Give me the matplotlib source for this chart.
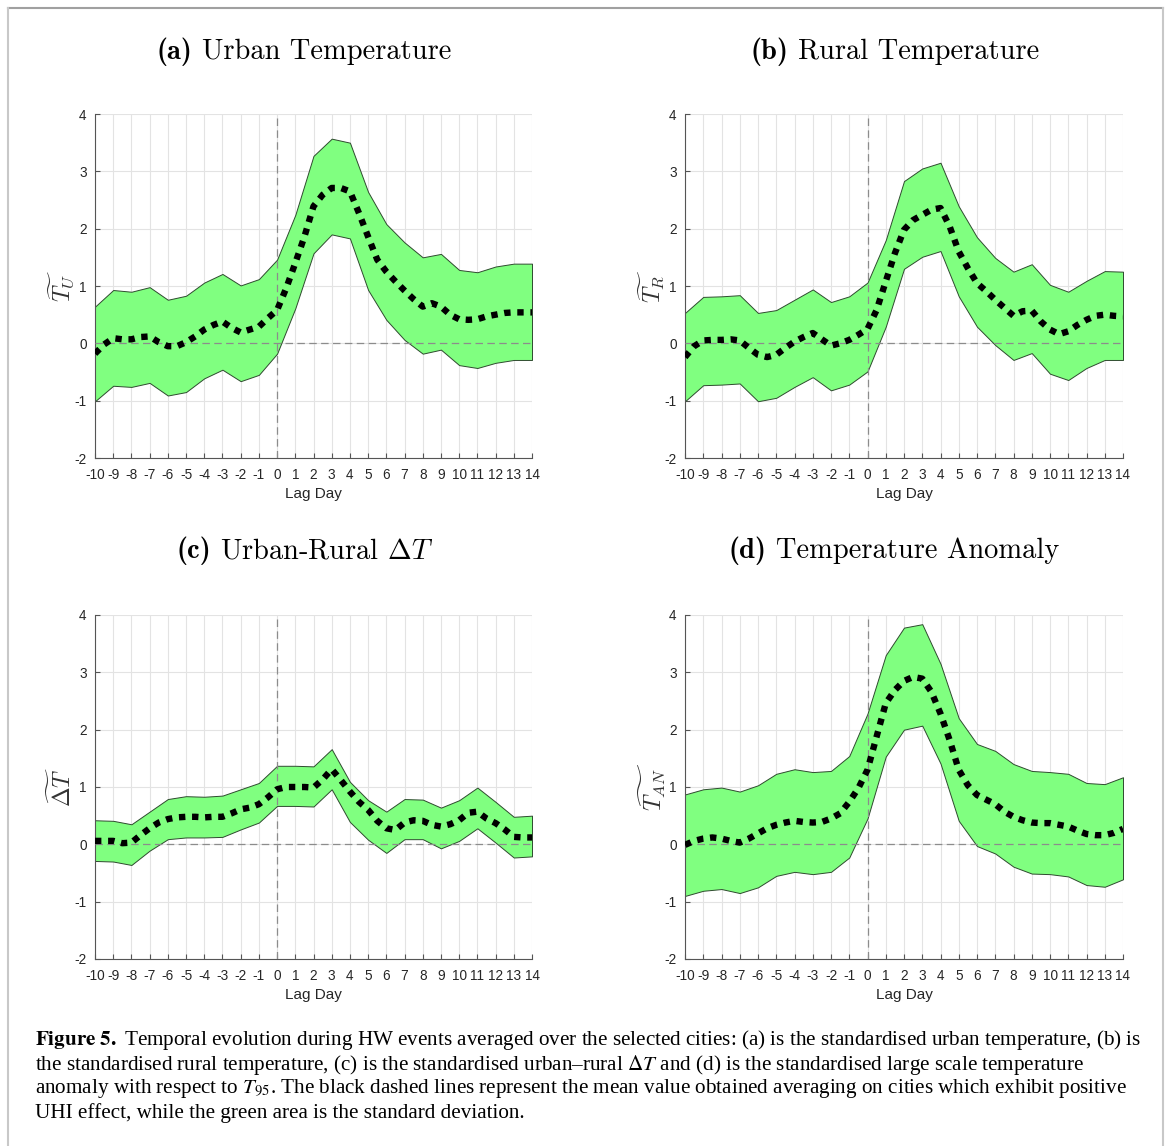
import numpy as np
import matplotlib.pyplot as plt
from matplotlib.lines import Line2D

plt.rcParams["axes.unicode_minus"] = False

# lag days
lag_days = list(range(-10, 15))
lag_half = np.arange(-10, 14.5, 0.5)

# (a) urban temperature
urban_upper = [0.64, 0.93, 0.90, 0.98, 0.76, 0.83, 1.06, 1.21, 1.01, 1.12, 1.46, 2.24, 3.27,
               3.57, 3.50, 2.64, 2.08, 1.76, 1.50, 1.56, 1.28, 1.24, 1.34, 1.39, 1.39]
urban_lower = [-1.01, -0.74, -0.76, -0.69, -0.91, -0.85, -0.61, -0.46, -0.66, -0.55, -0.18, 0.61, 1.57,
               1.90, 1.83, 0.93, 0.41, 0.06, -0.18, -0.11, -0.38, -0.43, -0.34, -0.29, -0.29]
urban_mean = [-0.18, -0.02, 0.09, 0.07, 0.07, 0.11, 0.12, 0.02, -0.05, -0.05, 0.02, 0.12, 0.24,
              0.32, 0.38, 0.27, 0.19, 0.24, 0.29, 0.44, 0.58, 0.96, 1.40, 1.86, 2.39, 2.59,
              2.71, 2.71, 2.65, 2.27, 1.86, 1.46, 1.25, 1.08, 0.92, 0.77, 0.64, 0.70, 0.64,
              0.50, 0.42, 0.41, 0.42, 0.47, 0.50, 0.53, 0.54, 0.54, 0.54]

# (b) rural temperature
rural_upper = [0.53, 0.81, 0.82, 0.84, 0.53, 0.58, 0.76, 0.94, 0.72, 0.82, 1.06, 1.80, 2.83,
               3.05, 3.15, 2.39, 1.85, 1.49, 1.25, 1.38, 1.02, 0.90, 1.09, 1.26, 1.25]
rural_lower = [-1.01, -0.73, -0.72, -0.70, -1.01, -0.95, -0.76, -0.59, -0.82, -0.72, -0.49, 0.29, 1.30,
               1.51, 1.61, 0.82, 0.29, -0.03, -0.29, -0.17, -0.53, -0.64, -0.43, -0.29, -0.29]
rural_mean = [-0.24, -0.05, 0.05, 0.06, 0.06, 0.07, 0.05, -0.08, -0.20, -0.24, -0.20, -0.08, 0.03,
              0.11, 0.18, 0.07, -0.04, 0.00, 0.06, 0.15, 0.25, 0.58, 1.08, 1.57, 1.98, 2.15,
              2.24, 2.33, 2.36, 2.04, 1.60, 1.31, 1.05, 0.91, 0.76, 0.62, 0.48, 0.56, 0.57,
              0.38, 0.24, 0.16, 0.21, 0.32, 0.41, 0.48, 0.50, 0.48, 0.47]

# (c) urban-rural delta T
delta_upper = [0.42, 0.41, 0.35, 0.57, 0.79, 0.84, 0.83, 0.85, 0.96, 1.07, 1.37, 1.37, 1.36,
               1.66, 1.09, 0.77, 0.57, 0.79, 0.78, 0.64, 0.77, 0.99, 0.74, 0.48, 0.50]
delta_lower = [-0.29, -0.30, -0.36, -0.11, 0.09, 0.12, 0.12, 0.13, 0.26, 0.38, 0.67, 0.67, 0.66,
               0.96, 0.39, 0.08, -0.15, 0.09, 0.09, -0.07, 0.06, 0.28, 0.03, -0.23, -0.21]
delta_mean = [0.06, 0.06, 0.06, 0.02, 0.03, 0.16, 0.28, 0.38, 0.44, 0.47, 0.48, 0.48, 0.47,
              0.48, 0.48, 0.54, 0.61, 0.64, 0.70, 0.82, 0.96, 1.00, 1.00, 1.00, 0.99, 1.13,
              1.31, 1.12, 0.92, 0.74, 0.60, 0.41, 0.28, 0.25, 0.38, 0.42, 0.41, 0.34, 0.31,
              0.35, 0.42, 0.55, 0.57, 0.45, 0.37, 0.26, 0.13, 0.12, 0.12]

# (d) temperature anomaly
anom_upper = [0.87, 0.96, 0.99, 0.92, 1.03, 1.23, 1.31, 1.26, 1.28, 1.54, 2.28, 3.30, 3.78,
              3.84, 3.15, 2.20, 1.75, 1.63, 1.40, 1.28, 1.26, 1.23, 1.07, 1.05, 1.17]
anom_lower = [-0.90, -0.81, -0.78, -0.85, -0.75, -0.55, -0.48, -0.52, -0.48, -0.23, 0.45, 1.53, 2.00,
              2.07, 1.41, 0.41, -0.03, -0.16, -0.39, -0.51, -0.52, -0.56, -0.71, -0.74, -0.61]
anom_mean = [-0.01, 0.06, 0.10, 0.12, 0.10, 0.06, 0.03, 0.10, 0.19, 0.28, 0.34, 0.38, 0.41,
             0.39, 0.38, 0.39, 0.45, 0.54, 0.74, 0.98, 1.30, 1.88, 2.46, 2.69, 2.85, 2.92,
             2.89, 2.66, 2.28, 1.82, 1.30, 1.03, 0.86, 0.78, 0.70, 0.57, 0.48, 0.42, 0.38,
             0.37, 0.37, 0.34, 0.31, 0.24, 0.18, 0.16, 0.16, 0.20, 0.27]

panel_tags = ["(a)", "(b)", "(c)", "(d)"]
panel_names = ["Urban Temperature", "Rural Temperature",
               r"Urban-Rural $\Delta T$", "Temperature Anomaly"]
panel_ylabels = [r"$\widetilde{T_U}$", r"$\widetilde{T_R}$",
                 r"$\widetilde{\Delta T}$", r"$\widetilde{T_{AN}}$"]

caption_lines = [
    r"$\mathbf{Figure\ 5.}$ Temporal evolution during HW events averaged over the selected cities: (a) is the standardised urban temperature, (b) is",
    r"the standardised rural temperature, (c) is the standardised urban–rural $\Delta T$ and (d) is the standardised large scale temperature",
    r"anomaly with respect to $T_{95}$. The black dashed lines represent the mean value obtained averaging on cities which exhibit positive",
    r"UHI effect, while the green area is the standard deviation.",
]

W, H = 1170, 1146
fig = plt.figure(figsize=(W / 100, H / 100), dpi=100)
fig.patch.set_facecolor("white")
renderer = fig.canvas.get_renderer()

# panel geometry in pixels: left, top, right, bottom
boxes = [(95, 114, 532, 458), (685, 114, 1123, 458),
         (95, 615, 532, 959), (685, 615, 1123, 959)]
title_pos = [(304, 52), (895, 52), (305, 551), (894, 551)]
ylabel_x = [62, 652, 62, 652]

data = [(urban_upper, urban_lower, urban_mean),
        (rural_upper, rural_lower, rural_mean),
        (delta_upper, delta_lower, delta_mean),
        (anom_upper, anom_lower, anom_mean)]

tick_color = "#262626"
title_size = 20.5
for i, (upper, lower, mean) in enumerate(data):
    l, t, r, b = boxes[i]
    ax = fig.add_axes([l / W, 1 - b / H, (r - l) / W, (b - t) / H])
    ax.fill_between(lag_days, lower, upper, facecolor="#80ff80", edgecolor="#2e4a2e",
                    linewidth=0.7, zorder=2)
    ax.axhline(0, color="#8c8c8c", lw=0.9, dashes=(6, 3.5), zorder=3)
    ax.axvline(0, color="#8c8c8c", lw=0.9, dashes=(6, 3.5), zorder=3)
    ax.plot(lag_half, mean, color="black", lw=4.6, linestyle=(0, (1, 1.05)),
            dash_capstyle="butt", zorder=4)
    ax.set_xlim(-10, 14)
    ax.set_ylim(-2, 4)
    ax.set_xticks(lag_days)
    ax.set_xticklabels([str(d) for d in lag_days])
    ax.set_yticks(range(-2, 5))
    ax.grid(True, color="#e3e3e3", lw=0.8, zorder=0)
    ax.set_axisbelow(True)
    for s in ["top", "right"]:
        ax.spines[s].set_visible(False)
    for s in ["left", "bottom"]:
        ax.spines[s].set_color("#555555")
        ax.spines[s].set_linewidth(0.8)
    ax.tick_params(direction="in", length=3.5, width=0.8, color="#555555",
                   labelcolor=tick_color, labelsize=9.8)
    ax.tick_params(axis="x", pad=7)
    ax.tick_params(axis="y", pad=6)
    for lab in ax.get_xticklabels() + ax.get_yticklabels():
        lab.set_family("Liberation Sans")
    ax.set_xlabel("Lag Day", fontsize=11, color=tick_color, family="Liberation Sans", labelpad=4)

    # title: bold tag + roman name, centred together
    tx, ty = title_pos[i]
    t1 = fig.text(0, 1 - ty / H, panel_tags[i], ha="left", va="center",
                  fontsize=title_size, family="cmb10")
    t2 = fig.text(0, 1 - ty / H, panel_names[i], ha="left", va="center",
                  fontsize=title_size, family="cmr10", math_fontfamily="cm")
    w1 = t1.get_window_extent(renderer).width
    w2 = t2.get_window_extent(renderer).width
    gap = 9
    x0 = tx - (w1 + gap + w2) / 2
    t1.set_x(x0 / W)
    t2.set_x((x0 + w1 + gap) / W)

    fig.text(ylabel_x[i] / W, 1 - ((t + b) / 2) / H, panel_ylabels[i], ha="center", va="center",
             rotation=90, fontsize=17, color="#333333", math_fontfamily="cm")

# caption
cap_y = [1040, 1065, 1089, 1113]
for line, yy in zip(caption_lines, cap_y):
    fig.text(35 / W, 1 - yy / H, line, ha="left", va="center", fontsize=15.2,
             family="Liberation Serif", math_fontfamily="stix")

# outer frame
fig.add_artist(Line2D([8 / W, 1163 / W], [1 - 8 / H, 1 - 8 / H], color="#a0a0a0", lw=1.5,
                      transform=fig.transFigure))
fig.add_artist(Line2D([8 / W, 8 / W], [0, 1 - 8 / H], color="#c8c8c8", lw=1.5,
                      transform=fig.transFigure))
fig.add_artist(Line2D([1163 / W, 1163 / W], [0, 1 - 8 / H], color="#c8c8c8", lw=1.5,
                      transform=fig.transFigure))

fig.savefig("out.png", dpi=100)
